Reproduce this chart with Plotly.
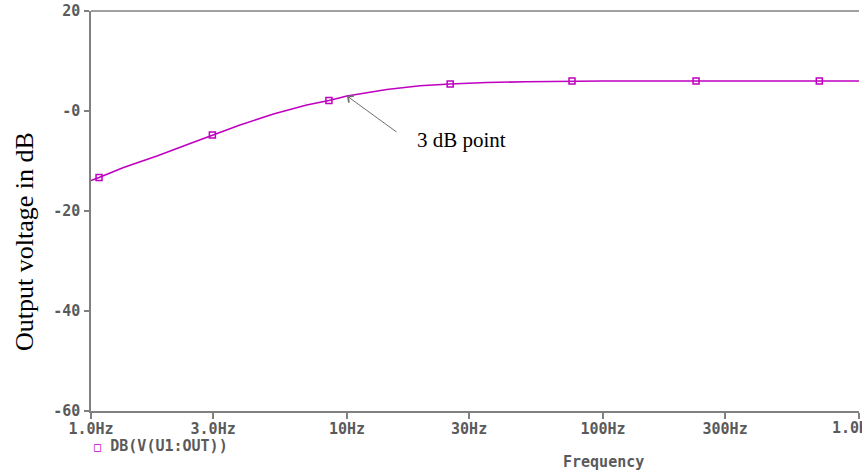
import plotly.graph_objects as go
import math

# Curve (frequency in Hz, output in dB)
curve_freq = [1.0, 1.075, 1.34, 1.81, 2.44, 2.98, 3.82, 5.16, 6.96, 8.5, 10.0,
              14.3, 19.3, 25.3, 35.2, 50.0, 64.0, 75.7, 100.0, 231.0, 700.0, 1000.0]
curve_db = [-13.9, -13.3, -11.3, -9.0, -6.5, -4.8, -2.8, -0.6, 1.2, 2.1, 3.0,
            4.3, 5.05, 5.4, 5.7, 5.85, 5.93, 6.0, 6.0, 6.0, 6.0, 6.0]

# Marker positions on the trace
marker_freq = [1.075, 2.98, 8.5, 25.3, 75.7, 231.0, 700.0]
marker_db = [-13.3, -4.8, 2.1, 5.4, 6.0, 6.0, 6.0]

x_tickvals = [1, 3, 10, 30, 100, 300, 1000]
x_ticktext = ["1.0Hz", "3.0Hz", "10Hz", "30Hz", "100Hz", "300Hz", "1.0KHz"]
y_tickvals = [20, 0, -20, -40, -60]
y_ticktext = ["20", "-0", "-20", "-40", "-60"]

series_name = "DB(V(U1:OUT))"
TRACE = "#C000C0"
AX = "#808080"
LBL = "#5a5a5a"
MONO = "DejaVu Sans Mono"
SERIF = "Liberation Serif"
TICKFONT = dict(family=MONO, size=15, color=LBL, weight="bold")

fig = go.Figure()
fig.add_trace(go.Scatter(x=curve_freq, y=curve_db, mode="lines",
                         line=dict(color=TRACE, width=1.6), showlegend=False,
                         hoverinfo="skip"))
fig.add_trace(go.Scatter(x=marker_freq, y=marker_db, mode="markers",
                         marker=dict(symbol="square-open", size=6, color=TRACE,
                                     line=dict(width=1.5, color=TRACE)),
                         showlegend=False))

# last label overhangs the page edge: drawn as an annotation so the plot is not shrunk
axis_text = x_ticktext[:-1] + [""]

fig.update_layout(
    width=862, height=474,
    margin=dict(l=91, r=3, t=11, b=63),
    paper_bgcolor="white", plot_bgcolor="white",
    showlegend=False,
    xaxis=dict(type="log", range=[0, 3.0002], tickvals=x_tickvals, ticktext=axis_text,
               showgrid=False, zeroline=False, showline=True, linecolor=AX, linewidth=1.5,
               mirror=False, ticks="outside", ticklen=6, tickcolor=AX, tickwidth=1.5,
               tickfont=TICKFONT, ticklabelstandoff=-3, automargin=False),
    yaxis=dict(range=[-60, 20], tickvals=y_tickvals, ticktext=y_ticktext,
               showgrid=False, zeroline=False, showline=True, linecolor=AX, linewidth=1.5,
               ticks="outside", ticklen=5, tickcolor=AX, tickwidth=1.5,
               tickfont=TICKFONT, ticklabelstandoff=1, automargin=False),
)

fig.add_annotation(text=x_ticktext[-1], xref="x", yref="paper",
                   x=math.log10(x_tickvals[-1]), y=-0.0425,
                   xanchor="center", yanchor="middle", showarrow=False,
                   font=TICKFONT)

# top border line (frame without right side)
fig.add_shape(type="line", xref="paper", yref="paper", x0=0, x1=1, y0=1, y1=1,
              line=dict(color=AX, width=1.5))

# y axis title (serif, offset below centre)
fig.add_annotation(text="Output voltage in dB", xref="paper", yref="paper",
                   x=-0.086, y=0.425, xanchor="center", yanchor="middle",
                   textangle=-90, showarrow=False,
                   font=dict(family=SERIF, size=26, color="black"))

# x axis title
fig.add_annotation(text="Frequency", xref="paper", yref="paper",
                   x=0.667, y=-0.127, xanchor="center", yanchor="middle",
                   showarrow=False, font=TICKFONT)

# legend entry
fig.add_annotation(text='<span style="color:%s;font-size:12px">□</span> %s' % (TRACE, series_name),
                   xref="paper", yref="paper",
                   x=(92 - 91) / 767.7, y=(411 - 445.5) / 400, xanchor="left", yanchor="middle",
                   showarrow=False, font=TICKFONT)

# 3 dB point arrow
fig.add_annotation(x=math.log10(10), y=3.0, xref="x", yref="y",
                   ax=51, ay=37, axref="pixel", ayref="pixel",
                   text="", showarrow=True, arrowhead=4, arrowsize=1.6,
                   arrowwidth=1, arrowcolor="#707070")
fig.add_annotation(x=math.log10(28.0), y=-5.8, xref="x", yref="y",
                   text="3 dB point", showarrow=False, xanchor="center", yanchor="middle",
                   font=dict(family=SERIF, size=21, color="black"))

fig.write_html("out.html")
